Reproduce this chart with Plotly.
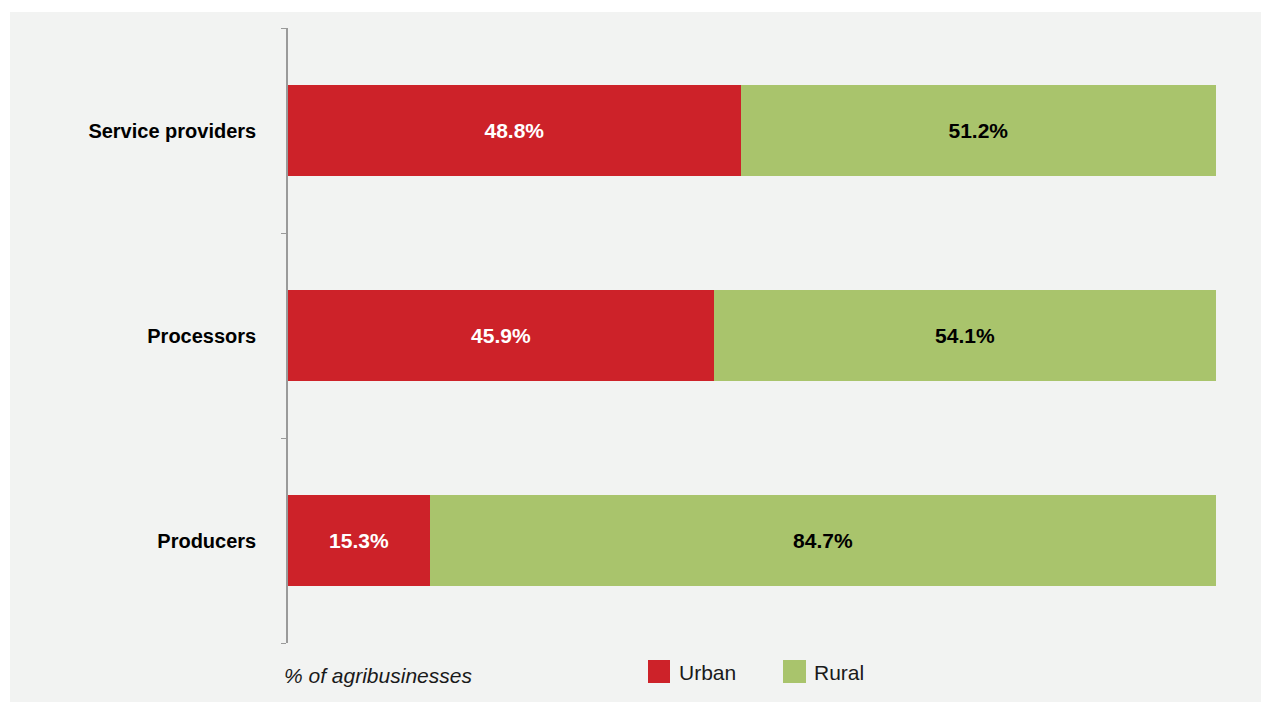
import plotly.graph_objects as go

# Share of agribusinesses located in urban vs rural areas, by type
categories = ["Producers", "Processors", "Service providers"]
urban = [15.3, 45.9, 48.8]
rural = [84.7, 54.1, 51.2]
series_names = ["Urban", "Rural"]
axis_title = "% of agribusinesses"

RED = "#CD2229"
GREEN = "#A9C46C"
PANEL = "#F2F3F2"
FONT = "Liberation Sans, Arial, Helvetica, sans-serif"

W, H = 1261, 702
L, R, T, B = 288, 1216, 28, 643  # plot area in pixels


def px_x(p):
    return (p - L) / (R - L)


def px_y(p):
    return (B - p) / (B - T)


fig = go.Figure()
fig.add_trace(go.Bar(
    y=categories, x=urban, name=series_names[0], orientation="h",
    marker=dict(color=RED, line=dict(width=0)),
    texttemplate="%{x:.1f}%", textposition="inside", insidetextanchor="middle",
    textfont=dict(family=FONT, size=21, color="white", weight="bold"),
    showlegend=False,
))
fig.add_trace(go.Bar(
    y=categories, x=rural, name=series_names[1], orientation="h",
    marker=dict(color=GREEN, line=dict(width=0)),
    texttemplate="%{x:.1f}%", textposition="inside", insidetextanchor="middle",
    textfont=dict(family=FONT, size=21, color="black", weight="bold"),
    showlegend=False,
))

shapes = [
    # white page margin above and left of the grey panel
    dict(type="rect", xref="paper", yref="paper", layer="below",
         x0=px_x(-5), x1=px_x(W + 5), y0=px_y(12), y1=px_y(-5),
         fillcolor="white", line=dict(width=0)),
    dict(type="rect", xref="paper", yref="paper", layer="below",
         x0=px_x(-5), x1=px_x(10), y0=px_y(H + 5), y1=px_y(-5),
         fillcolor="white", line=dict(width=0)),
    # legend swatches
    dict(type="rect", xref="paper", yref="paper",
         x0=px_x(648), x1=px_x(670), y0=px_y(660), y1=px_y(683),
         fillcolor=RED, line=dict(width=0)),
    dict(type="rect", xref="paper", yref="paper",
         x0=px_x(783), x1=px_x(806), y0=px_y(660), y1=px_y(683),
         fillcolor=GREEN, line=dict(width=0)),
]

annotations = [
    dict(text=axis_title, xref="paper", yref="paper", x=px_x(282), y=px_y(675),
         xanchor="left", yanchor="middle", showarrow=False,
         font=dict(family=FONT, size=21, color="#1a1a1a", style="italic")),
    dict(text=series_names[0], xref="paper", yref="paper", x=px_x(677), y=px_y(672),
         xanchor="left", yanchor="middle", showarrow=False,
         font=dict(family=FONT, size=21, color="#1a1a1a")),
    dict(text=series_names[1], xref="paper", yref="paper", x=px_x(812), y=px_y(672),
         xanchor="left", yanchor="middle", showarrow=False,
         font=dict(family=FONT, size=21, color="#1a1a1a")),
]

fig.update_layout(
    width=W, height=H,
    barmode="stack", bargap=0.556,
    paper_bgcolor=PANEL, plot_bgcolor="rgba(0,0,0,0)",
    margin=dict(l=L, r=W - R, t=T, b=H - B, pad=0),
    showlegend=False,
    shapes=shapes, annotations=annotations,
    xaxis=dict(range=[0, 100], showgrid=False, zeroline=False,
               showticklabels=False, ticks="", showline=False, fixedrange=True),
    yaxis=dict(type="category", categoryorder="array", categoryarray=categories,
               range=[-0.5, 2.5], showgrid=False, zeroline=False,
               showline=True, linecolor="#9a9a9a", linewidth=1.5,
               ticks="outside", ticklen=5, tickcolor="#9a9a9a", tickwidth=1,
               tickson="boundaries", ticklabelstandoff=26,
               tickfont=dict(family=FONT, size=20, color="black", weight="bold"),
               fixedrange=True),
    uniformtext=dict(mode=False),
)

fig.write_html("out.html")
